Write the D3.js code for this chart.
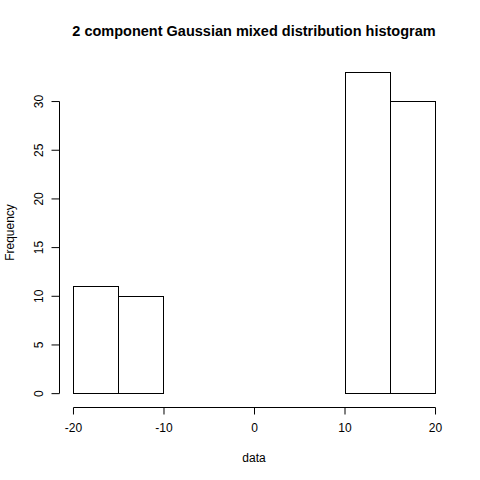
<!DOCTYPE html>
<html>
<head>
<meta charset="utf-8">
<script src="https://cdn.jsdelivr.net/npm/d3@7"></script>
<style>
body { margin: 0; background: #fff; }
text { font-family: "Liberation Sans", Arial, sans-serif; fill: #000; }
</style>
</head>
<body>
<svg width="480" height="480"></svg>
<script>
// histogram bins (breaks of 5) and counts
var breaks = [-20, -15, -10, -5, 0, 5, 10, 15, 20];
var counts = [11, 10, 0, 0, 0, 0, 33, 30];
var xTicks = [-20, -10, 0, 10, 20];
var yTicks = [0, 5, 10, 15, 20, 25, 30];

var title = "2 component Gaussian mixed distribution histogram";

var svg = d3.select("svg");

var bins = counts.map(function(c, i) { return {x0: breaks[i], x1: breaks[i + 1], n: c}; });

// R style 4% extension of the data ranges
var xmin = d3.min(breaks), xmax = d3.max(breaks), ymax = d3.max(counts);
var xpad = (xmax - xmin) * 0.04, ypad = ymax * 0.04;

var x = d3.scaleLinear().domain([xmin - xpad, xmax + xpad]).range([58.5, 449.5]);
var y = d3.scaleLinear().domain([-ypad, ymax + ypad]).range([406, 59]);

function px(v) { return Math.round(v) + 0.5; }

// bars
svg.append("g")
  .selectAll("rect")
  .data(bins)
  .enter().append("rect")
    .attr("x", function(d) { return px(x(d.x0)); })
    .attr("y", function(d) { return px(y(d.n)); })
    .attr("width", function(d) { return Math.round(x(d.x1)) - Math.round(x(d.x0)); })
    .attr("height", function(d) { return Math.round(y(0)) - Math.round(y(d.n)); })
    .attr("fill", "none")
    .attr("stroke", "#000")
    .attr("stroke-width", 1);

// x axis
var xAxis = svg.append("g")
  .attr("transform", "translate(0," + px(407) + ")")
  .call(d3.axisBottom(x).tickValues(xTicks).tickSize(7).tickPadding(9).tickFormat(d3.format("d")));
xAxis.select(".domain").remove();
xAxis.append("line")
  .attr("x1", px(x(xmin))).attr("x2", px(x(xmax)))
  .attr("stroke", "#000");
xAxis.selectAll(".tick line").attr("stroke", "#000");
xAxis.selectAll("text").attr("font-size", 12).attr("font-family", null).style("fill", "#000")
  .text(function(d) { return d < 0 ? "-" + Math.abs(d) : d; });

// y axis
var yAxis = svg.append("g")
  .attr("transform", "translate(" + px(59) + ",0)")
  .call(d3.axisLeft(y).tickValues(yTicks).tickSize(8).tickFormat(d3.format("d")));
yAxis.select(".domain").remove();
yAxis.append("line")
  .attr("y1", px(y(0))).attr("y2", px(y(30)))
  .attr("stroke", "#000");
yAxis.selectAll(".tick line").attr("stroke", "#000");
yAxis.selectAll(".tick text")
  .attr("x", null).attr("dy", null)
  .attr("font-size", 12).attr("font-family", null)
  .attr("text-anchor", "middle")
  .attr("transform", "translate(-17,0) rotate(-90)")
  .style("fill", "#000");

// labels
svg.append("text")
  .attr("x", (x(xmin - xpad) + x(xmax + xpad)) / 2)
  .attr("y", 36)
  .attr("text-anchor", "middle")
  .attr("font-size", 14.5)
  .attr("font-weight", "bold")
  .text(title);

svg.append("text")
  .attr("x", (x(xmin - xpad) + x(xmax + xpad)) / 2)
  .attr("y", 462)
  .attr("text-anchor", "middle")
  .attr("font-size", 12)
  .text("data");

svg.append("text")
  .attr("transform", "translate(14," + (y(-ypad) + y(ymax + ypad)) / 2 + ") rotate(-90)")
  .attr("text-anchor", "middle")
  .attr("font-size", 12)
  .text("Frequency");
</script>
</body>
</html>
